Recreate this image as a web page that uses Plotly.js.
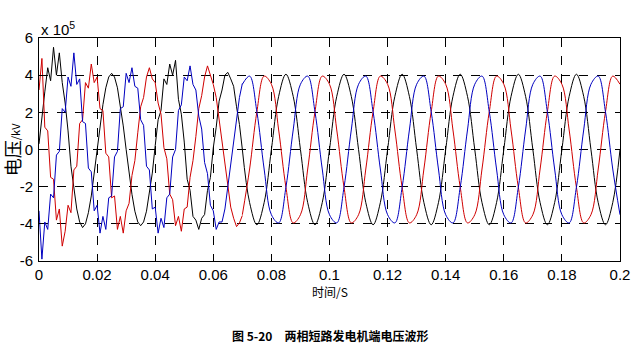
<!DOCTYPE html>
<html><head><meta charset="utf-8">
<script src="https://cdn.plot.ly/plotly-3.0.1.min.js"></script>
<style>body{margin:0;background:#fff}#chart{width:640px;height:362px}</style>
</head><body><div id="chart"></div>
<script>
// time samples (s), noisy transient part
const tNoisy = [0,0.001,0.002,0.003,0.004,0.005,0.006,0.007,0.008,0.009,
0.01,0.011,0.012,0.013,0.014,0.015,0.016,0.017,0.018,0.019,
0.02,0.021,0.022,0.023,0.024,0.025,0.026,0.027,0.028,0.029,
0.03,0.031,0.032,0.033,0.034,0.035,0.036,0.037,0.038,0.039,
0.04,0.041,0.042,0.043,0.044,0.045,0.046,0.047,0.048,0.049,
0.05,0.051,0.052,0.053,0.054,0.055,0.056,0.057,0.058,0.059,
0.06,0.061,0.062,0.063,0.064,0.065,0.066,0.067,0.068,0.069,0.07];
// voltages in units of 1e5 V
const phaseA_noisy = [0.3,1.8,3.1,4.4,3.7,5.5,4.0,5.2,3.6,2.5,
1.0,-0.9,-2.2,-3.2,-3.9,-4.2,-4.0,-3.4,-2.5,-1.3,
0,1.27,2.41,3.32,3.90,4.10,3.90,3.32,2.41,1.27,
0,-1.27,-2.41,-3.32,-3.90,-4.10,-3.90,-3.32,-2.41,-1.27,
0.2,1.6,2.1,3.8,3.5,4.6,4.0,4.8,2.7,1.9,
0.4,-1.6,-2.2,-3.6,-3.8,-4.3,-3.7,-3.5,-2.2,-1.5,
0.1,1.2,2.6,3.2,4.0,4.15,3.8,3.4,2.3,1.35,0];
const phaseC_noisy = [3.2,4.9,1.2,1.0,-1.5,-1.6,-3.8,-3.2,-5.2,-4.4,
-3.0,-3.4,-1.1,-0.9,1.4,1.6,3.6,3.3,4.6,3.6,
3.9,2.2,2.1,-0.2,-0.4,-2.6,-2.5,-4.3,-3.6,-4.5,
-3.3,-2.9,-1.4,-0.6,0.9,2.3,2.8,3.9,4.4,3.8,
3.6,2.5,1.9,0.1,-0.5,-2.4,-2.7,-4.1,-3.6,-4.4,
-3.2,-3.1,-1.5,-0.6,0.7,2.2,2.9,3.9,4.5,3.95,
3.5,2.8,1.6,0.5,-0.9,-2.0,-3.1,-3.7,-4.15,-3.95,-3.55];
const phaseB_noisy = [-3.3,-5.9,-3.9,-4.3,-2.4,-2.6,-0.3,-0.1,2.2,2.0,
3.9,3.4,5.2,3.5,3.8,1.5,1.4,-1.0,-1.2,-3.3,
-3.0,-4.5,-3.6,-4.3,-2.6,-2.5,-0.4,-0.1,2.2,2.3,
4.1,3.6,4.4,3.4,3.3,1.6,1.3,-0.9,-1.1,-3.2,
-3.1,-4.5,-3.7,-4.2,-2.6,-2.4,-0.4,0.0,2.1,2.4,
3.9,3.7,4.5,3.5,3.2,1.8,1.1,-0.7,-1.3,-3.0,
-3.3,-4.3,-3.9,-3.9,-3.2,-2.0,-0.95,0.5,1.6,2.8,3.55];

// steady-state part
const tSteady = [0.07,0.0725,0.075,0.0775,0.08,0.0825,0.085,0.0875,0.09,0.0925,
0.095,0.0975,0.1,0.1025,0.105,0.1075,0.11,0.1125,0.115,0.1175,
0.12,0.1225,0.125,0.1275,0.13,0.1325,0.135,0.1375,0.14,0.1425,
0.145,0.1475,0.15,0.1525,0.155,0.1575,0.16,0.1625,0.165,0.1675,
0.17,0.1725,0.175,0.1775,0.18,0.1825,0.185,0.1875,0.19,0.1925,
0.195,0.1975,0.2];
const phaseA_steady = [0,-2.86,-4.05,-2.86,0,2.86,4.05,2.86,
0,-2.86,-4.05,-2.86,0,2.86,4.05,2.86,
0,-2.86,-4.05,-2.86,0,2.86,4.05,2.86,
0,-2.86,-4.05,-2.86,0,2.86,4.05,2.86,
0,-2.86,-4.05,-2.86,0,2.86,4.05,2.86,
0,-2.86,-4.05,-2.86,0,2.86,4.05,2.86,
0,-2.86,-4.05,-2.86,0];
const phaseB_steady = [3.51,3.95,2.03,-1.05,-3.51,-3.95,-2.03,1.05,
3.51,3.95,2.03,-1.05,-3.51,-3.95,-2.03,1.05,
3.51,3.95,2.03,-1.05,-3.51,-3.95,-2.03,1.05,
3.51,3.95,2.03,-1.05,-3.51,-3.95,-2.03,1.05,
3.51,3.95,2.03,-1.05,-3.51,-3.95,-2.03,1.05,
3.51,3.95,2.03,-1.05,-3.51,-3.95,-2.03,1.05,
3.51,3.95,2.03,-1.05,-3.51];
const phaseC_steady = [-3.51,-1.05,2.03,3.95,3.51,1.05,-2.03,-3.95,
-3.51,-1.05,2.03,3.95,3.51,1.05,-2.03,-3.95,
-3.51,-1.05,2.03,3.95,3.51,1.05,-2.03,-3.95,
-3.51,-1.05,2.03,3.95,3.51,1.05,-2.03,-3.95,
-3.51,-1.05,2.03,3.95,3.51,1.05,-2.03,-3.95,
-3.51,-1.05,2.03,3.95,3.51,1.05,-2.03,-3.95,
-3.51,-1.05,2.03,3.95,3.51];

const xTickVals = [0,0.02,0.04,0.06,0.08,0.1,0.12,0.14,0.16,0.18,0.2];
const xTickText = ['0','0.02','0.04','0.06','0.08','0.1','0.12','0.14','0.16','0.18','0.2'];
const yTickVals = [-6,-4,-2,0,2,4,6];
const yTickText = ['-6','-4','-2','0','2','4','6'];

const colA = '#000000', colB = '#0000c0', colC = '#d00000';
function tr(x, y, color, shape) {
  return {x: x, y: y, type: 'scatter', mode: 'lines',
    line: {color: color, width: 1, shape: shape, smoothing: 1},
    hoverinfo: 'skip', showlegend: false};
}
const data = [
  tr(tNoisy, phaseA_noisy, colA, 'linear'),
  tr(tSteady, phaseA_steady, colA, 'spline'),
  tr(tNoisy, phaseC_noisy, colC, 'linear'),
  tr(tSteady, phaseC_steady, colC, 'spline'),
  tr(tNoisy, phaseB_noisy, colB, 'linear'),
  tr(tSteady, phaseB_steady, colB, 'spline')
];
const axisCommon = {
  showgrid: true, gridcolor: '#000', griddash: 'dash', gridwidth: 1,
  showline: true, linecolor: '#000', linewidth: 1, mirror: 'ticks',
  ticks: 'inside', ticklen: 4, tickcolor: '#000', zeroline: false,
  tickfont: {family: 'Liberation Sans Narrow, Arial Narrow, Liberation Sans, Arial, sans-serif', size: 15, color: '#000'}
};
const layout = {
  width: 640, height: 362,
  margin: {l: 39, r: 20, t: 38, b: 101},
  paper_bgcolor: '#fff', plot_bgcolor: '#fff',
  font: {family: 'Liberation Sans, Arial, sans-serif', size: 14, color: '#000'},
  xaxis: Object.assign({}, axisCommon, {range: [0, 0.2], tickmode: 'array', tickvals: xTickVals, ticktext: xTickText, ticklabelstandoff: 0}),
  yaxis: Object.assign({}, axisCommon, {range: [-6, 6], tickmode: 'array', tickvals: yTickVals, ticktext: yTickText, ticklabelstandoff: 2}),
  annotations: [
    {xref: 'paper', yref: 'paper', x: 0.5, y: -0.137, text: '时间/S', showarrow: false,
     font: {family: 'Noto Sans CJK SC, sans-serif', size: 12}, xanchor: 'center', yanchor: 'middle'},
    {xref: 'paper', yref: 'paper', x: -0.047, y: 0.5, text: '电压<span style="font-size:11px">/kV</span>', showarrow: false, textangle: -90,
     font: {family: 'Noto Sans CJK SC, sans-serif', size: 18}, xanchor: 'center', yanchor: 'middle'},
    {xref: 'paper', yref: 'paper', x: 0, y: 1, text: 'x 10<sup>5</sup>', showarrow: false,
     font: {family: 'Liberation Sans, Arial, sans-serif', size: 15}, xanchor: 'left', yanchor: 'bottom', yshift: -2},
    {xref: 'paper', yref: 'paper', x: 0.5, y: -0.332, text: '<b>图 5-20　两相短路发电机端电压波形</b>', showarrow: false,
     font: {family: 'Noto Sans CJK SC, sans-serif', size: 12}, xanchor: 'center', yanchor: 'middle'}
  ]
};
Plotly.newPlot('chart', data, layout, {staticPlot: true, displayModeBar: false});
</script>
</body></html>
